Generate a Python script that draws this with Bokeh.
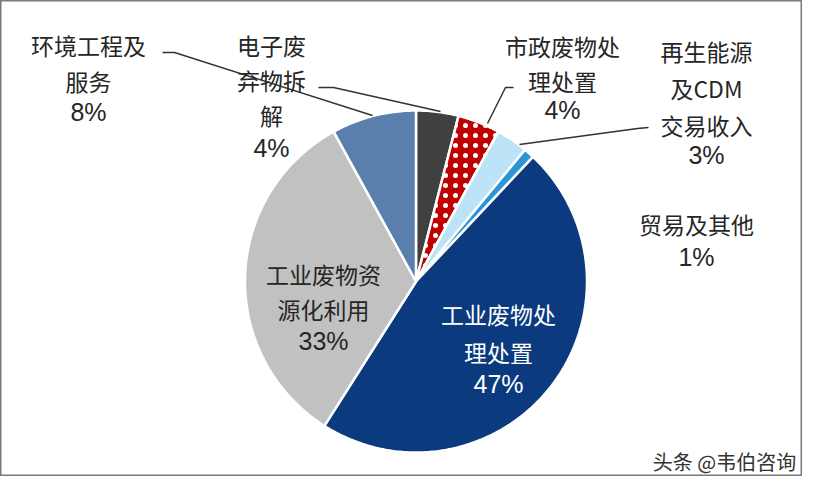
import numpy as np
from bokeh.plotting import figure
from bokeh.models import Range1d, ColumnDataSource
from bokeh.core.properties import value
from bokeh.embed import file_html
from bokeh.resources import INLINE

# ---- data ----
categories = ["电子废弃物拆解", "市政废物处理处置", "再生能源及CDM交易收入", "贸易及其他",
              "工业废物处理处置", "工业废物资源化利用", "环境工程及服务"]
shares = [4, 4, 3, 1, 47, 33, 8]
pct_labels = ["4%", "4%", "3%", "1%", "47%", "33%", "8%"]
label_lines = [["电子废", "弃物拆", "解"], ["市政废物处", "理处置"], ["再生能源", "及CDM", "交易收入"],
               ["贸易及其他"], ["工业废物处", "理处置"], ["工业废物资", "源化利用"], ["环境工程及", "服务"]]
colors = ["#404040", "#c00000", "#bde3f6", "#2b96d6", "#0b3a7e", "#c1c1c1", "#5b7fac"]
hatches = ["blank", "dot", "blank", "blank", "blank", "blank", "blank"]
watermark = "头条 @韦伯咨询"

# ---- layout (pixel-like coordinates, y downward) ----
W, H = 802, 476
cx, cy, r = 415.5, 281.0, 171.0
# label block layout: (center x, first-line y, line pitch, percent y)
label_layout = [(271, 44, 35, 147), (562, 45, 35, 109), (706, 50, 37, 154), (696, 223, 35, 256),
                (498, 313, 38, 383), (323, 273, 35, 340), (88, 44, 36, 111)]
text_colors = ["#262626", "#262626", "#262626", "#262626", "#ffffff", "#262626", "#262626"]
leaders = [([318, 333, 440], [87, 87, 111]), ([513, 505, 487], [87, 87, 123]),
           ([648, 637, 519], [127, 128, 144]), ([162, 174, 372], [52, 52, 115])]

p = figure(width=W, height=H, x_range=Range1d(0, W), y_range=Range1d(H, 0),
           output_backend="svg", toolbar_location=None, min_border=0)
p.axis.visible = False
p.grid.visible = False
p.outline_line_color = "#7a7a7a"
p.outline_line_width = 2
p.background_fill_color = "white"

total = float(sum(shares))
cum = np.concatenate([[0], np.cumsum(shares)]) / total * 2 * np.pi
xs, ys = [], []
for a0, a1 in zip(cum[:-1], cum[1:]):
    th = np.linspace(a0, a1, max(8, int((a1 - a0) * 80)))
    xs.append([cx] + list(cx + r * np.sin(th)))
    ys.append([cy] + list(cy - r * np.cos(th)))

src = ColumnDataSource(dict(xs=xs, ys=ys, color=colors, hatch=hatches, name=categories))
p.patches("xs", "ys", source=src, fill_color="color", line_color="white", line_width=2.5,
          hatch_pattern="hatch", hatch_color="white", hatch_scale=10, hatch_weight=1.3)

# leader lines
p.multi_line([l[0] for l in leaders], [l[1] for l in leaders], line_color="#333333", line_width=1.5)

# labels
tx, ty, tt, tc = [], [], [], []
px, py, pt, pc = [], [], [], []
for lines, (lx, ly, pitch, pyy), pct, col in zip(label_lines, label_layout, pct_labels, text_colors):
    for i, ln in enumerate(lines):
        tx.append(lx); ty.append(ly + i * pitch); tt.append(ln); tc.append(col)
    px.append(lx); py.append(pyy); pt.append(pct); pc.append(col)

p.text(x=tx, y=ty, text=tt, text_color=tc, text_font=value("Noto Sans CJK SC"),
       text_font_size="23px", text_align="center", text_baseline="middle")
p.text(x=px, y=py, text=pt, text_color=pc, text_font=value("Liberation Sans"),
       text_font_size="25px", text_align="center", text_baseline="middle")

p.text(x=[724], y=[461], text=[watermark], text_color="#333333", text_font=value("Noto Sans CJK SC"),
       text_font_size="20px", text_align="center", text_baseline="middle")

open("out.html", "w").write(file_html(p, INLINE))
